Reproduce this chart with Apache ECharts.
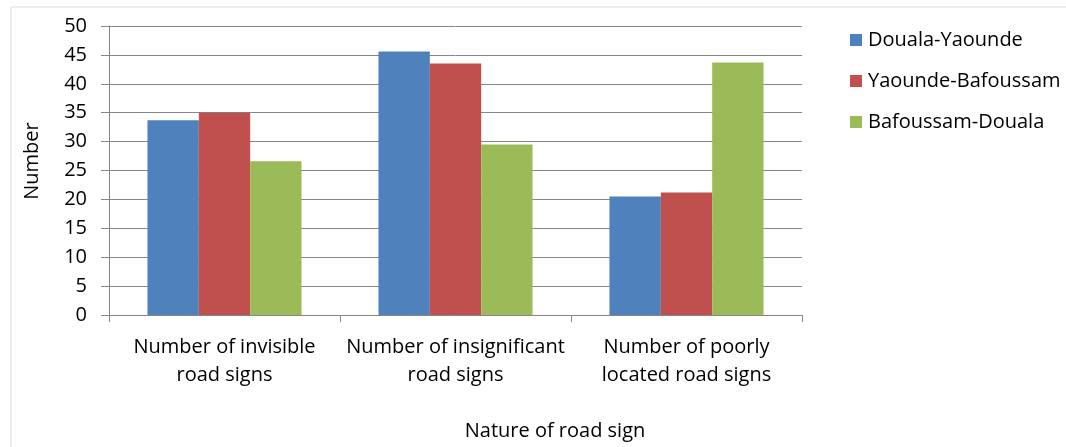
<!DOCTYPE html>
<html>
<head>
<meta charset="utf-8">
<script src="https://cdn.jsdelivr.net/npm/echarts@6/dist/echarts.min.js"></script>
<style>
  html, body { margin: 0; padding: 0; background: #fff; }
  #chart { width: 1066px; height: 447px; }
</style>
</head>
<body>
<div id="chart"></div>
<script>
// Road sign survey by route
const categories = [
  'Number of invisible\nroad signs',
  'Number of insignificant\nroad signs',
  'Number of poorly\nlocated road signs'
];
const seriesNames = ['Douala-Yaounde', 'Yaounde-Bafoussam', 'Bafoussam-Douala'];
const doualaYaounde = [33.7, 45.6, 20.5];
const yaoundeBafoussam = [35.0, 43.5, 21.2];
const bafoussamDouala = [26.6, 29.5, 43.7];
const colors = ['#4f81bd', '#c0504d', '#9bbb59'];
const yTitle = 'Number';
const xTitle = 'Nature of road sign';

const FONT = '"Open Sans", "Noto Sans", sans-serif';
const SIZE = 20;
const chart = echarts.init(document.getElementById('chart'), null, { renderer: 'canvas' });

chart.setOption({
  animation: false,
  backgroundColor: '#fff',
  textStyle: { fontFamily: FONT, color: '#000' },
  graphic: [
    {
      type: 'rect',
      shape: { x: 11, y: 7, width: 1080, height: 460 },
      style: { fill: 'none', stroke: '#d9d9d9', lineWidth: 1 },
      silent: true
    },
    {
      type: 'text',
      x: 32, y: 161, rotation: Math.PI / 2,
      style: { text: yTitle, font: SIZE + 'px ' + FONT, fill: '#000', align: 'center', verticalAlign: 'middle' }
    },
    {
      type: 'text',
      x: 555, y: 431,
      style: { text: xTitle, font: SIZE + 'px ' + FONT, fill: '#000', align: 'center', verticalAlign: 'middle' }
    }
  ],
  grid: { left: 109, right: 264, top: 26, bottom: 132 },
  legend: {
    orient: 'vertical',
    left: 845,
    top: 25,
    itemWidth: 12,
    itemHeight: 12,
    itemGap: 21,
    icon: 'rect',
    textStyle: { fontFamily: FONT, fontSize: SIZE, lineHeight: 20, color: '#000', padding: [0, 0, 0, 1] },
    data: seriesNames
  },
  xAxis: {
    type: 'category',
    data: categories,
    axisLine: { lineStyle: { color: '#868686' } },
    axisTick: { show: true, length: 7, alignWithLabel: false, lineStyle: { color: '#868686' } },
    axisLabel: { fontFamily: FONT, fontSize: SIZE, color: '#000', margin: 18, lineHeight: 28, interval: 0 }
  },
  yAxis: {
    type: 'value',
    min: 0,
    max: 50,
    interval: 5,
    axisLine: { show: true, lineStyle: { color: '#868686' } },
    axisTick: { show: true, length: 8, lineStyle: { color: '#868686' } },
    axisLabel: { fontFamily: FONT, fontSize: SIZE, color: '#000', margin: 22 },
    splitLine: { lineStyle: { color: '#868686', width: 1 } }
  },
  series: [
    { name: seriesNames[0], type: 'bar', data: doualaYaounde, itemStyle: { color: colors[0] }, barGap: '0%', barCategoryGap: '33.3%' },
    { name: seriesNames[1], type: 'bar', data: yaoundeBafoussam, itemStyle: { color: colors[1] }, barGap: '0%', barCategoryGap: '33.3%' },
    { name: seriesNames[2], type: 'bar', data: bafoussamDouala, itemStyle: { color: colors[2] }, barGap: '0%', barCategoryGap: '33.3%' }
  ]
});
</script>
</body>
</html>
